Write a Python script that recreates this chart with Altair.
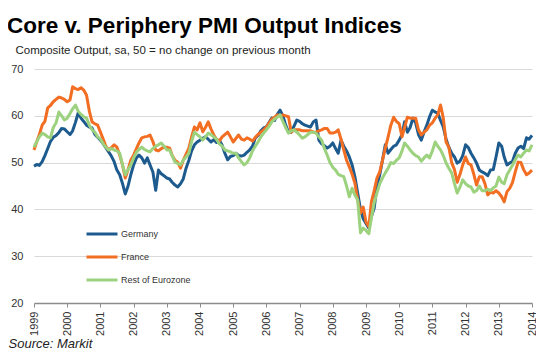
import altair as alt
import pandas as pd

series_names = ["Germany", "France", "Rest of Eurozone"]
series_colors = ["#1D5A8E", "#F26E22", "#9CD27E"]

germany = [
    49.2, 49.6, 49.4, 50.2, 51.5, 53.0, 54.5, 55.4, 55.8, 56.4, 57.3, 57.2,
    56.6, 56.0, 56.8, 58.6, 60.6, 59.5, 58.8, 58.0, 57.6, 57.4, 56.0, 55.4,
    54.8, 54.0, 53.2, 52.3, 51.4, 50.2, 48.4, 47.4, 45.5, 43.3, 45.0, 47.4,
    49.5, 51.0, 51.6, 51.0, 49.9, 51.0, 49.5, 48.0, 44.1, 48.4, 47.6, 47.2,
    46.7, 46.5, 45.8, 45.2, 44.8, 45.5, 46.5, 48.8, 50.5, 52.5, 53.8, 54.4,
    54.8, 55.2, 55.5, 55.0, 54.4, 54.9, 54.3, 54.8, 53.7, 52.0, 50.6, 51.3,
    51.5, 52.0, 51.5, 51.4, 51.6, 52.2, 52.7, 53.5, 55.3, 55.8, 56.8, 57.4,
    57.6, 58.6, 59.5, 59.0, 60.3, 61.2, 60.0, 58.0, 56.5, 56.5, 57.8, 59.1,
    58.8, 58.3, 58.0, 57.8, 57.6, 58.7, 59.1, 54.8, 54.0, 53.6, 53.1, 53.5,
    54.2, 53.0, 52.0, 54.8, 53.5, 52.5, 51.2, 49.5, 46.9, 43.5, 40.0, 38.0,
    37.0, 36.0, 38.5, 40.3, 45.2, 47.4, 50.5, 53.8, 52.0, 52.8, 53.5, 53.8,
    54.8, 56.0, 58.7, 56.5, 57.5, 59.5, 58.5, 56.0, 54.8, 56.5, 58.0, 59.8,
    61.2, 60.8, 60.6, 59.0, 57.6, 55.0, 53.3, 52.0, 51.2, 49.9, 50.3, 51.5,
    53.8, 53.2, 52.0, 51.0, 49.9, 48.4, 48.0, 47.7, 47.2, 48.4, 48.5, 51.2,
    54.2, 53.5, 51.2, 49.5, 49.9, 50.3, 52.0, 53.1, 53.5, 53.0, 55.3, 55.0,
    55.8,
]

france = [
    52.7, 54.5, 56.0, 58.0, 58.8, 61.7, 62.2, 63.0, 63.5, 64.0, 63.8, 63.5,
    63.0, 63.4, 66.2, 65.8, 65.6, 66.0, 65.5, 64.4, 61.0, 58.7, 58.3, 58.0,
    56.5, 55.0, 53.5, 52.7, 53.2, 53.8, 53.3, 51.6, 49.5, 46.7, 48.5, 50.5,
    51.6, 53.0, 54.2, 55.3, 55.5, 55.6, 55.9, 54.5, 52.7, 52.5, 53.0, 53.3,
    53.3, 53.1, 51.5, 50.5, 50.1, 48.8, 50.5, 51.8, 53.1, 55.5, 57.6, 57.0,
    58.5, 56.6, 57.5, 58.7, 57.2, 55.9, 55.0, 54.6, 55.5, 56.0, 56.5, 55.5,
    54.4, 55.2, 55.9, 55.0, 54.8, 55.3, 55.0, 54.6, 55.4, 56.0, 56.5, 57.0,
    57.6, 58.5, 59.3, 59.7, 60.2, 60.0, 60.2, 60.0, 59.8, 56.5, 57.0, 57.0,
    57.0, 56.8, 56.8, 56.8, 56.8, 56.5, 56.5, 56.8, 57.0, 57.3, 57.3, 56.3,
    56.3, 56.5, 57.0, 55.0, 52.7, 50.5, 49.1, 47.5, 45.6, 42.0, 39.2, 40.5,
    37.3, 36.3, 41.6, 44.0, 46.7, 48.0, 50.5, 53.1, 55.5, 58.0, 59.7, 58.8,
    58.3, 55.5, 57.5, 59.7, 59.5, 59.5, 59.5, 57.0, 55.9, 56.5, 57.0, 58.0,
    58.5, 59.5, 60.2, 62.3, 59.5, 54.4, 53.3, 50.0, 48.5, 45.8, 47.5, 49.5,
    51.2, 49.8, 49.5, 47.5, 45.2, 47.0, 47.0, 45.5, 43.1, 43.7, 43.5, 44.0,
    43.5, 42.7, 41.6, 43.8, 44.5, 45.8, 48.0, 50.1, 50.0, 48.5, 47.4, 47.8,
    48.4,
]

rest_of_eurozone = [
    53.3, 54.5, 55.5, 56.3, 56.0, 55.5, 55.3, 57.5, 58.5, 60.8, 60.0, 59.1,
    59.5, 60.5, 61.5, 62.3, 61.0, 60.3, 59.8, 59.5, 58.0, 57.0, 56.5, 55.5,
    55.0, 54.0, 53.3, 52.7, 53.0, 52.7, 52.5, 52.0, 49.5, 47.4, 48.5, 49.5,
    51.0, 52.2, 52.8, 53.3, 52.8, 52.5, 52.3, 53.0, 53.5, 53.8, 54.2, 53.5,
    52.7, 52.7, 51.5, 50.1, 49.8, 49.5, 50.5, 51.2, 52.0, 54.5, 56.5, 56.0,
    55.5, 54.8, 55.5, 56.3, 56.0, 55.5, 55.0, 54.0, 53.5, 52.7, 52.5, 52.3,
    52.0, 52.0, 51.0, 50.2, 49.5, 50.0, 51.0, 52.5, 53.5, 54.4, 55.5, 56.3,
    57.0, 57.8, 58.7, 59.3, 59.7, 60.2, 58.8, 57.5, 56.3, 56.8, 57.0, 56.5,
    55.9, 55.2, 55.5, 56.0, 56.5, 56.5, 56.3, 55.5, 54.8, 53.0, 51.6, 50.0,
    49.0, 48.4, 47.5, 47.2, 47.0, 45.0, 42.7, 44.5, 43.0, 42.0, 35.0, 36.0,
    35.5, 34.8, 38.2, 41.5, 43.5, 45.5, 46.7, 47.8, 48.8, 50.0, 49.8, 50.5,
    51.0, 52.5, 54.2, 53.5, 52.7, 52.0, 51.5, 51.2, 50.3, 51.0, 51.6, 51.0,
    52.5, 54.4, 53.5, 52.7, 51.5, 49.9, 48.8, 47.8, 45.5, 43.5, 44.8, 46.3,
    45.5, 45.0, 44.8, 43.7, 44.0, 45.0, 44.0, 44.0, 44.3, 44.0, 44.6, 45.0,
    46.9, 45.8, 45.5, 47.4, 48.4, 49.5, 50.6, 51.6, 51.2, 52.0, 52.7, 52.5,
    53.8,
]

dates = pd.date_range("1999-01-01", periods=len(germany), freq="MS")

frames = []
for name, vals in zip(series_names, [germany, france, rest_of_eurozone]):
    frames.append(pd.DataFrame({"date": dates[:len(vals)], "value": vals, "series": name}))
df = pd.concat(frames, ignore_index=True)
df["order"] = df["series"].map({n: i for i, n in enumerate(series_names)})

FONT = "Liberation Sans"

chart = alt.Chart(df).mark_line(strokeWidth=3, strokeJoin="round").encode(
    x=alt.X(
        "date:T",
        scale=alt.Scale(domain=["1999-01-01", "2014-01-01"], nice=False),
        axis=alt.Axis(
            format="%Y",
            tickCount={"interval": "year", "step": 1},
            labelAngle=270,
            labelAlign="right",
            labelBaseline="middle",
            labelFontSize=11,
            labelFont=FONT,
            labelColor="#333333",
            labelPadding=4,
            grid=False,
            domainColor="#8C8C8C",
            domainWidth=1.5,
            tickColor="#8C8C8C",
            tickSize=4,
            title="Source: Markit",
            titleFont=FONT,
            titleFontSize=13,
            titleFontStyle="italic",
            titleFontWeight="normal",
            titleColor="#222222",
            titleAlign="left",
            titleBaseline="alphabetic",
            titleX=-26,
            titleY=44,
        ),
    ),
    y=alt.Y(
        "value:Q",
        scale=alt.Scale(domain=[20, 70], nice=False, zero=False),
        axis=alt.Axis(
            values=[20, 30, 40, 50, 60, 70],
            domain=False,
            ticks=False,
            labelFontSize=11,
            labelFont=FONT,
            labelColor="#333333",
            labelPadding=11,
            gridColor="#D9D9D9",
            gridWidth=1.2,
            title="Composite Output, sa, 50 = no change on previous month",
            titleFont=FONT,
            titleFontSize=11.5,
            titleFontWeight="normal",
            titleColor="#222222",
            titleAngle=0,
            titleAlign="left",
            titleBaseline="alphabetic",
            titleX=-19,
            titleY=-16,
        ),
    ),
    color=alt.Color(
        "series:N",
        scale=alt.Scale(domain=series_names, range=series_colors),
        legend=alt.Legend(
            title=None,
            orient="none",
            legendX=51,
            legendY=148,
            direction="vertical",
            symbolType="stroke",
            symbolSize=961,
            symbolStrokeWidth=3,
            labelFont=FONT,
            labelFontSize=9,
            labelColor="#333333",
            labelOffset=2,
            rowPadding=-6.5,
        ),
    ),
    order=alt.Order("order:Q"),
).properties(
    width=498,
    height=234,
    autosize=alt.AutoSizeParams(type="none"),
    padding={"left": 26, "top": 61, "right": 4, "bottom": 47},
    title=alt.TitleParams(
        "Core v. Periphery PMI Output Indices",
        anchor="start",
        frame="group",
        font=FONT,
        fontSize=22.5,
        fontWeight="bold",
        color="#000000",
        dx=-27,
        dy=-3,
    ),
).configure_view(stroke=None)

chart.save("out.html", embed_options={"renderer": "svg", "actions": False})
